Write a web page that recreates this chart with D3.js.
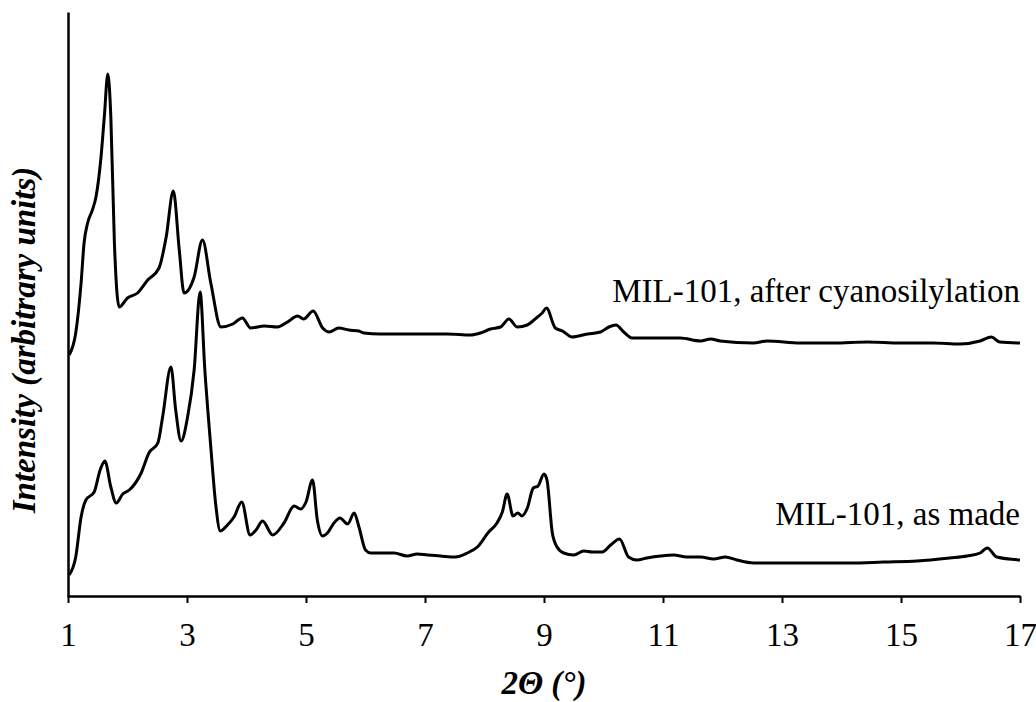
<!DOCTYPE html>
<html>
<head>
<meta charset="utf-8">
<script src="https://cdn.jsdelivr.net/npm/d3@7"></script>
<style>
  body { margin: 0; background: #fff; }
  svg text { font-family: "Liberation Serif", "Times New Roman", Times, "DejaVu Serif", serif; fill: #000; }
</style>
</head>
<body>
<div id="chart"></div>
<script>
// 2-theta values (deg) and intensity (arbitrary units)
var afterX = [1.02,1.13,1.22,1.27,1.33,1.41,1.47,1.55,1.61,1.67,1.72,1.78,1.86,2.00,2.17,2.34,2.53,2.65,2.77,2.87,2.95,3.12,3.26,3.40,3.57,3.77,3.93,4.07,4.30,4.52,4.69,4.86,4.96,5.12,5.28,5.39,5.55,5.72,5.89,5.97,6.25,6.81,7.37,7.77,7.93,8.10,8.27,8.41,8.55,8.72,8.89,8.97,9.04,9.19,9.31,9.47,9.73,9.95,10.09,10.21,10.34,10.48,10.73,11.07,11.29,11.63,11.80,11.96,12.52,12.75,13.31,13.87,14.43,14.99,15.54,15.99,16.33,16.52,16.66,17.00]
var afterY = [242,264,314,354,374,387,400,437,480,523,480,354,290,299,304,317,329,360,406,347,304,320,357,314,270,273,279,269,271,270,275,281,278,286,269,265,269,267,266,264,263,263,263,262,264,268,270,278,270,272,280,284,289,269,266,260,263,265,270,272,265,259,259,259,259,256,258,256,254,256,254,254,255,254,254,253,256,260,255,254]

var madeX = [1.02,1.13,1.22,1.30,1.44,1.54,1.62,1.72,1.81,1.92,2.03,2.23,2.36,2.51,2.59,2.73,2.81,2.90,3.01,3.12,3.22,3.30,3.40,3.48,3.56,3.68,3.79,3.92,4.06,4.16,4.27,4.44,4.63,4.80,4.91,5.00,5.11,5.19,5.28,5.36,5.47,5.57,5.70,5.81,5.89,6.00,6.09,6.25,6.48,6.70,6.87,7.04,7.26,7.51,7.71,7.88,8.07,8.21,8.30,8.38,8.48,8.56,8.63,8.72,8.82,8.90,9.00,9.05,9.14,9.22,9.33,9.50,9.67,9.81,9.98,10.12,10.27,10.42,10.56,10.73,10.96,11.18,11.40,11.63,11.85,12.05,12.24,12.52,13.03,13.59,14.15,14.71,15.27,15.82,16.11,16.33,16.45,16.61,17.00]
var madeY = [22,40,80,97,105,127,136,110,94,103,107,124,144,154,180,230,187,156,180,227,305,227,150,94,66,72,80,95,62,67,76,62,74,91,88,95,117,77,61,64,74,79,73,84,70,47,44,44,44,41,43,42,41,40,44,50,65,74,85,103,81,84,81,89,109,111,123,117,64,50,44,42,46,45,45,52,58,40,37,39,41,42,40,40,38,40,37,34,34,34,34,35,36,39,41,44,49,40,37]

var seriesNames = ['MIL-101, after cyanosilylation', 'MIL-101, as made']
var xTicks = [1,3,5,7,9,11,13,15,17]

var serif = '"Liberation Serif", "Times New Roman", Times, "DejaVu Serif", serif'

width = 1036
height = 702

var svg = d3.select('#chart').append('svg').attr('width', width).attr('height', height)

var x = d3.scaleLinear().domain([1, 17]).range([68, 1020])
var y = d3.scaleLinear().domain([0, 585]).range([597, 12])

// axes
var xAxis = svg.append('g').attr('transform', 'translate(0,596)')
  .call(d3.axisBottom(x).tickValues(xTicks).tickSize(7).tickSizeOuter(0).tickPadding(20))
xAxis.attr('font-family', null)
xAxis.select('.domain').attr('stroke-width', 2.5)
xAxis.selectAll('.tick line').attr('stroke-width', 2)
xAxis.selectAll('text').style('font-size', '33px').style('font-family', serif)

var yAxis = svg.append('g').attr('transform', 'translate(68,0)')
  .call(d3.axisLeft(y).tickValues([]).tickSizeOuter(0))
yAxis.select('.domain').attr('stroke-width', 2.5)

// curves
var line = d3.line().x(d => x(d[0])).y(d => y(d[1])).curve(d3.curveMonotoneX)

var afterData = afterX.map((v, i) => [v, afterY[i]])
var madeData = madeX.map((v, i) => [v, madeY[i]])

svg.append('g').selectAll('path')
  .data([afterData, madeData]).join('path')
  .attr('d', line)
  .attr('fill', 'none')
  .attr('stroke', '#000')
  .attr('stroke-width', 3)
  .attr('stroke-linejoin', 'round')

// series labels
svg.append('text').attr('x', x(17)).attr('y', y(295))
  .attr('text-anchor', 'end').style('font-size', '33px').style('font-family', serif).text(seriesNames[0])
svg.append('text').attr('x', x(17)).attr('y', y(72))
  .attr('text-anchor', 'end').style('font-size', '33px').style('font-family', serif).text(seriesNames[1])

// axis titles
svg.append('text').attr('x', x(9)).attr('y', 694)
  .attr('text-anchor', 'middle').style('font-family', serif)
  .style('font-size', '33px').style('font-weight', 'bold').style('font-style', 'italic')
  .text('2Θ (°)')

svg.append('text').attr('transform', 'translate(35,340) rotate(-90)')
  .attr('text-anchor', 'middle').style('font-family', serif)
  .style('font-size', '33px').style('font-weight', 'bold').style('font-style', 'italic')
  .text('Intensity (arbitrary units)')
</script>
</body>
</html>
